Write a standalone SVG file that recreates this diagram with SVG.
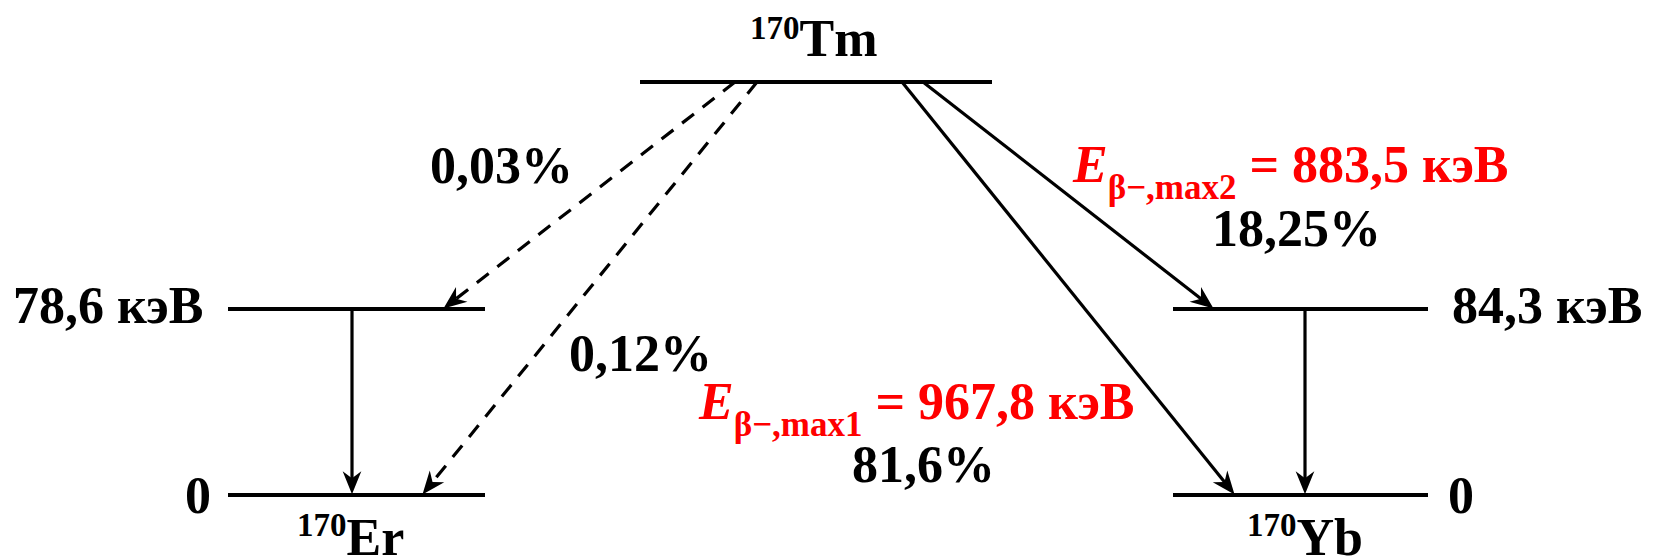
<svg xmlns="http://www.w3.org/2000/svg" width="1653" height="559" viewBox="0 0 1653 559">
<style>
text{font-family:"Liberation Serif","Times New Roman",serif;font-weight:bold;font-size:52px;fill:#000}
.sup{font-size:33px}
.sub{font-size:35px}
.red{fill:#ff0000}
.it{font-style:italic}
.lvl{stroke:#000;stroke-width:3.8;fill:none}
.arr{stroke:#000;stroke-width:3.2;fill:none;marker-end:url(#ah)}
.dash{stroke-dasharray:15 11}
</style>
<defs>
<marker id="ah" markerUnits="userSpaceOnUse" markerWidth="40" markerHeight="40" viewBox="-30 -15 45 30" refX="0" refY="0" orient="auto" overflow="visible">
<path d="M6,0 L-20,-10.5 L-12,0 L-20,10.5 Z" fill="#000"/>
</marker>
</defs>
<rect width="1653" height="559" fill="#fff"/>
<g id="tm">
<line class="lvl" x1="640" y1="82" x2="992" y2="82"/>
<text x="750" y="56"><tspan class="sup" y="39">170</tspan><tspan y="56">Tm</tspan></text>
</g>
<g id="er-786">
<line class="lvl" x1="228" y1="309" x2="485" y2="309"/>
<text x="13" y="323">78,6 кэВ</text>
</g>
<g id="er-0">
<line class="lvl" x1="228" y1="495" x2="485" y2="495"/>
<text x="211" y="513" text-anchor="end">0</text>
<text x="297" y="555"><tspan class="sup" y="536">170</tspan><tspan y="555">Er</tspan></text>
</g>
<g id="yb-843">
<line class="lvl" x1="1173" y1="309" x2="1428" y2="309"/>
<text x="1452" y="323">84,3 кэВ</text>
</g>
<g id="yb-0">
<line class="lvl" x1="1173" y1="495" x2="1428" y2="495"/>
<text x="1448" y="513">0</text>
<text x="1247" y="555"><tspan class="sup" y="536">170</tspan><tspan y="555">Yb</tspan></text>
</g>
<g id="connectors">
<line class="arr" x1="352" y1="309" x2="352" y2="489"/>
<line class="arr" x1="1305" y1="309" x2="1305" y2="489"/>
<line class="arr dash" x1="735" y1="82" x2="447.7" y2="305.3"/>
<line class="arr dash" x1="757" y1="82" x2="425.8" y2="490.3"/>
<line class="arr" x1="902" y1="82" x2="1231.2" y2="490.3"/>
<line class="arr" x1="923" y1="82" x2="1209.3" y2="305.3"/>
</g>
<g id="labels">
<text x="430" y="183">0,03%</text>
<text x="569" y="371">0,12%</text>
<text x="852" y="482">81,6%</text>
<text x="1212" y="246">18,25%</text>
<text class="red" x="699" y="419"><tspan class="it">E</tspan><tspan class="sub" y="436">β−,max1</tspan><tspan y="419"> = 967,8 кэВ</tspan></text>
<text class="red" x="1073" y="182"><tspan class="it">E</tspan><tspan class="sub" y="199">β−,max2</tspan><tspan y="182"> = 883,5 кэВ</tspan></text>
</g>
</svg>
